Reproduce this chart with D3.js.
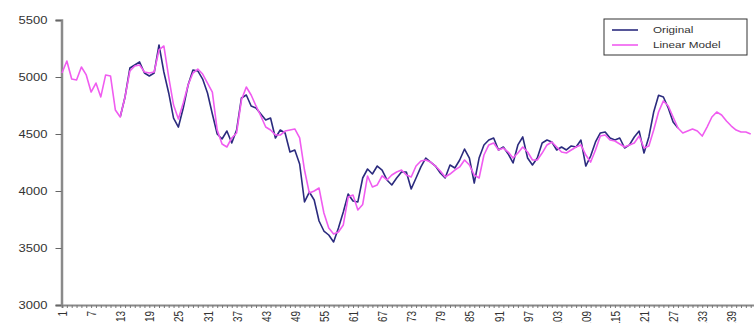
<!DOCTYPE html>
<html>
<head>
<meta charset="utf-8">
<script src="https://cdn.jsdelivr.net/npm/d3@7"></script>
<style>
  html, body { margin: 0; padding: 0; background: #fff; }
  svg { display: block; }
  text { font-family: "Liberation Sans", Arial, sans-serif; fill: #333; }
</style>
</head>
<body>
<svg id="chart" width="754" height="323"></svg>
<script>
// Observed series starts at period 13; the fitted model covers periods 1..143.
const originalStart = 13;
const originalValues = [
  4649, 4825, 5079, 5105, 5132, 5035, 5009, 5035, 5281, 5044,
  4860, 4640, 4561, 4728, 4930, 5061, 5053, 4982, 4860, 4675,
  4500, 4456, 4526, 4421, 4535, 4816, 4842, 4746, 4728, 4675,
  4623, 4640, 4465, 4535, 4509, 4342, 4360, 4237, 3904, 3991,
  3921, 3737, 3649, 3614, 3553, 3675, 3816, 3974, 3912, 3904,
  4114, 4193, 4149, 4219, 4184, 4097, 4053, 4114, 4167, 4167,
  4018, 4114, 4211, 4289, 4254, 4219, 4158, 4114, 4228, 4202,
  4272, 4368, 4289, 4070, 4289, 4404, 4447, 4465, 4360, 4386,
  4325, 4246, 4404, 4474, 4289, 4228, 4289, 4421, 4447, 4430,
  4360, 4386, 4360, 4395, 4386, 4447, 4219, 4307, 4430, 4509,
  4518, 4465, 4447, 4465, 4377, 4404, 4474, 4526, 4333, 4474,
  4693, 4840, 4825, 4728, 4605, 4553
];
const modelValues = [
  5035, 5140, 4982, 4974, 5088, 5018, 4868, 4947, 4825, 5018,
  5009, 4711, 4649, 4825, 5053, 5096, 5105, 5044, 5035, 5044,
  5237, 5272, 5000, 4754, 4632, 4772, 4930, 5035, 5070, 5026,
  4947, 4868, 4535, 4412, 4386, 4465, 4509, 4798, 4912, 4842,
  4746, 4658, 4561, 4535, 4491, 4491, 4526, 4535, 4544, 4465,
  4184, 3982, 4000, 4026, 3807, 3675, 3623, 3640, 3702, 3947,
  3965, 3833, 3882, 4132, 4035, 4053, 4132, 4097, 4140, 4167,
  4184, 4140, 4123, 4219, 4263, 4272, 4254, 4219, 4175, 4123,
  4149, 4184, 4211, 4272, 4228, 4140, 4114, 4316, 4404, 4421,
  4360, 4377, 4342, 4289, 4333, 4386, 4342, 4272, 4272, 4333,
  4404, 4430, 4386, 4342, 4333, 4360, 4386, 4404, 4316, 4254,
  4360, 4482, 4491, 4447, 4439, 4412, 4386, 4404, 4421, 4482,
  4377, 4395, 4535, 4693, 4790, 4746, 4649, 4553, 4509, 4526,
  4544, 4526, 4482, 4561, 4649, 4693, 4667, 4614, 4570, 4535,
  4518, 4518, 4500
];
const yTicks = [3000, 3500, 4000, 4500, 5000, 5500];
const labelEvery = 6;
const periodCount = 144;
const seriesNames = ["Original", "Linear Model"];
const seriesColors = ["#2b2b7e", "#f05cf0"];

const original = originalValues.map((v, i) => ({ t: originalStart + i, v }));
const model = modelValues.map((v, i) => ({ t: 1 + i, v }));

const svg = d3.select("#chart");
const plotLeft = 62, plotTop = 20, plotBottom = 305;
const step = 4.85;

const x = d3.scaleLinear()
  .domain([1, periodCount])
  .range([plotLeft, plotLeft + (periodCount - 1) * step]);
const y = d3.scaleLinear().domain([3000, 5500]).range([plotBottom, plotTop]);

// Y axis
const yAxis = svg.append("g")
  .attr("transform", `translate(${plotLeft - 0.5},0)`)
  .call(d3.axisLeft(y).tickValues(yTicks).tickSize(6).tickPadding(8).tickFormat(d3.format("d")));
yAxis.select(".domain").attr("stroke", "#8a8a8a").attr("stroke-width", 2.5);
yAxis.selectAll(".tick line").attr("stroke", "#666");
yAxis.selectAll(".tick text")
  .attr("font-size", 10)
  .attr("fill", "#555")
  .attr("text-anchor", "end")
  .attr("transform", function () {
    const tx = +d3.select(this).attr("x");
    return `translate(${tx},0) scale(1.3,1) translate(${-tx},0)`;
  });

// X axis: one tick per period, label every sixth
const xAxis = svg.append("g")
  .attr("transform", `translate(0,${plotBottom})`)
  .call(d3.axisBottom(x)
    .tickValues(d3.range(1, periodCount + 1))
    .tickSize(3)
    .tickFormat(d => (d - 1) % labelEvery === 0 ? d : ""));
xAxis.select(".domain").attr("stroke", "#8a8a8a").attr("stroke-width", 2);
xAxis.selectAll(".tick line").attr("stroke", "#777");
xAxis.selectAll(".tick text")
  .attr("font-size", 10)
  .attr("fill", "#555")
  .attr("text-anchor", "end")
  .attr("x", -6)
  .attr("y", 0)
  .attr("dy", "0.35em")
  .attr("transform", "scale(1.3,1) rotate(-90)");

// Series lines
const line = d3.line().x(d => x(d.t)).y(d => y(d.v));
svg.append("path").datum(original)
  .attr("fill", "none").attr("stroke", seriesColors[0]).attr("stroke-width", 1.6)
  .attr("stroke-linejoin", "round").attr("d", line);
svg.append("path").datum(model)
  .attr("fill", "none").attr("stroke", seriesColors[1]).attr("stroke-width", 1.6)
  .attr("stroke-linejoin", "round").attr("d", line);

// Legend
const legend = svg.append("g").attr("transform", "translate(604,19)");
legend.append("rect").attr("width", 143).attr("height", 36)
  .attr("fill", "#fff").attr("stroke", "#333").attr("stroke-width", 1);
seriesNames.forEach((name, i) => {
  const ly = 11 + i * 15;
  legend.append("line").attr("x1", 8).attr("x2", 34).attr("y1", ly).attr("y2", ly)
    .attr("stroke", seriesColors[i]).attr("stroke-width", 1.6);
  legend.append("text").attr("x", 0).attr("y", ly).attr("dy", "0.35em")
    .attr("font-size", 9).attr("fill", "#222")
    .attr("transform", "translate(49,0) scale(1.3,1)")
    .text(name);
});
</script>
</body>
</html>
